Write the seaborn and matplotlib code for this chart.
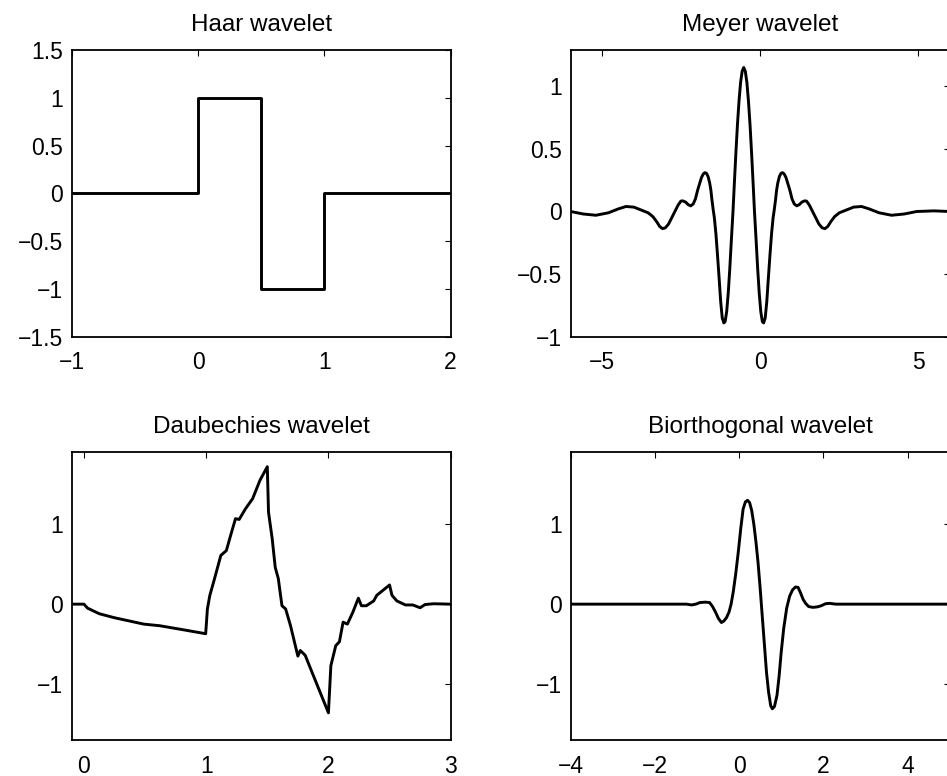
import numpy as np
import pandas as pd
import matplotlib
matplotlib.use("Agg")
import matplotlib.pyplot as plt
import seaborn as sns
from matplotlib.ticker import FuncFormatter

# ---------------- data ----------------
haar_x = [-1, 0, 0, 0.5, 0.5, 1, 1, 2]
haar_y = [0, 0, 1, 1, -1, -1, 0, 0]

meyer_x = [-6.0, -5.6, -5.2, -4.8, -4.5, -4.25, -4.0, -3.75, -3.55, -3.4, -3.28, -3.18, -3.09,
           -3.0, -2.9, -2.8, -2.7, -2.6, -2.51, -2.45, -2.36, -2.28, -2.2, -2.12, -2.05,
           -1.98, -1.92, -1.86, -1.8, -1.75, -1.7, -1.65, -1.6, -1.56, -1.53, -1.49, -1.45,
           -1.4, -1.35, -1.3, -1.25, -1.2, -1.15, -1.11, -1.06, -1.01, -0.96, -0.91, -0.86,
           -0.82, -0.77, -0.72, -0.67, -0.62, -0.57, -0.52,
           -0.47, -0.42, -0.37, -0.32, -0.27, -0.22, -0.18, -0.13, -0.08, -0.03, 0.02, 0.07,
           0.11, 0.16, 0.21, 0.26, 0.31, 0.36, 0.41, 0.45, 0.49, 0.52, 0.56, 0.61, 0.66,
           0.71, 0.76, 0.82, 0.88, 0.94, 1.01, 1.08, 1.16, 1.24, 1.32, 1.41, 1.47, 1.56,
           1.66, 1.76, 1.86, 1.96, 2.05, 2.14, 2.24, 2.36, 2.51, 2.71, 2.96, 3.21, 3.46,
           3.76, 4.16, 4.56, 4.96, 5.5, 6.0]
meyer_y = [0.0, -0.02, -0.03, -0.01, 0.02, 0.04, 0.035, 0.01, -0.01, -0.04, -0.08, -0.12, -0.137,
           -0.13, -0.10, -0.05, 0.0, 0.05, 0.083, 0.085, 0.075, 0.055, 0.045, 0.06, 0.10,
           0.17, 0.22, 0.27, 0.30, 0.31, 0.305, 0.28, 0.23, 0.17, 0.10, 0.02, -0.05,
           -0.18, -0.35, -0.53, -0.72, -0.85, -0.89, -0.88, -0.80, -0.65, -0.45, -0.22, 0.0,
           0.21, 0.46, 0.69, 0.88, 1.03, 1.12, 1.15,
           1.12, 1.03, 0.88, 0.69, 0.46, 0.21, 0.0, -0.22, -0.45, -0.65, -0.80, -0.88,
           -0.89, -0.85, -0.72, -0.53, -0.35, -0.18, -0.05, 0.02, 0.10, 0.17, 0.23, 0.28, 0.305,
           0.31, 0.30, 0.27, 0.22, 0.17, 0.10, 0.06, 0.045, 0.055, 0.075, 0.085, 0.083, 0.05,
           0.0, -0.05, -0.10, -0.13, -0.137, -0.12, -0.08, -0.04, -0.01, 0.01, 0.035, 0.04, 0.02,
           -0.01, -0.03, -0.02, 0.0, 0.005, 0.0]

daub_x = [-0.1, 0.0, 0.03, 0.126, 0.25, 0.34, 0.49, 0.62, 0.81, 0.996, 1.01, 1.03, 1.065,
          1.12, 1.165, 1.2, 1.24, 1.27, 1.32, 1.38, 1.44, 1.50, 1.51, 1.54, 1.565, 1.59,
          1.62, 1.65, 1.69, 1.75, 1.77, 1.81, 1.86, 2.0, 2.02, 2.06, 2.09, 2.12, 2.155,
          2.2, 2.245, 2.27, 2.31, 2.37, 2.395, 2.50, 2.52, 2.56, 2.63, 2.69, 2.75, 2.79,
          2.86, 3.0]
daub_y = [0.0, 0.0, -0.05, -0.12, -0.17, -0.2, -0.25, -0.27, -0.32, -0.37, -0.06, 0.11, 0.30,
          0.61, 0.67, 0.86, 1.07, 1.06, 1.19, 1.32, 1.55, 1.72, 1.15, 0.82, 0.46, 0.32,
          -0.02, -0.06, -0.27, -0.65, -0.58, -0.64, -0.83, -1.36, -0.77, -0.52, -0.47, -0.225, -0.25,
          -0.1, 0.075, -0.02, -0.02, 0.04, 0.11, 0.24, 0.11, 0.04, -0.01, -0.01, -0.045, -0.005,
          0.005, 0.0]

bior_x = [-4.0, -1.25, -1.13, -1.03, -0.93, -0.8, -0.7, -0.63, -0.56, -0.49, -0.42, -0.36,
          -0.3, -0.24, -0.19, -0.14, -0.08, -0.02, 0.04, 0.095, 0.15, 0.2, 0.25, 0.3, 0.35,
          0.4, 0.45, 0.5, 0.55, 0.6, 0.65, 0.7, 0.75, 0.79, 0.84, 0.9, 0.95, 1.0, 1.06,
          1.13, 1.2, 1.27, 1.34, 1.40, 1.46, 1.52, 1.58, 1.65, 1.75, 1.85, 1.95, 2.05,
          2.15, 2.3, 5.0]
bior_y = [0.0, 0.0, -0.01, 0.0, 0.02, 0.025, 0.02, -0.03, -0.10, -0.18, -0.23, -0.21,
          -0.17, -0.10, 0.0, 0.15, 0.38, 0.65, 0.95, 1.19, 1.28, 1.30, 1.27, 1.17, 1.0,
          0.78, 0.52, 0.2, -0.15, -0.5, -0.85, -1.1, -1.27, -1.31, -1.28, -1.14, -0.90, -0.6, -0.3,
          -0.05, 0.1, 0.18, 0.215, 0.21, 0.14, 0.06, 0.01, -0.03, -0.04, -0.035, -0.02, 0.005,
          0.01, 0.0, 0.0]

titles = ["Haar wavelet", "Meyer wavelet", "Daubechies wavelet", "Biorthogonal wavelet"]
xlims = [(-1, 2), (-6, 6), (-0.1, 3), (-4, 5)]
ylims = [(-1.5, 1.5), (-1, 1.29), (-1.7, 1.9), (-1.7, 1.9)]
xticks = [[-1, 0, 1, 2], [-5, 0, 5], [0, 1, 2, 3], [-4, -2, 0, 2, 4]]
yticks = [[-1.5, -1, -0.5, 0, 0.5, 1, 1.5], [-1, -0.5, 0, 0.5, 1], [-1, 0, 1], [-1, 0, 1]]

# ---------------- style ----------------
sns.set_theme(style="white")
plt.rcParams['font.family'] = ['Liberation Sans', 'DejaVu Sans']
plt.rcParams.update({
    "xtick.direction": "in", "ytick.direction": "in",
    "xtick.top": True, "ytick.right": True,
    "xtick.major.size": 4, "ytick.major.size": 4,
    "xtick.major.width": 0.8, "ytick.major.width": 0.8,
    "axes.edgecolor": "black", "axes.linewidth": 1.3,
    "xtick.color": "black", "ytick.color": "black",
})

fig = plt.figure(figsize=(9.47, 7.76), dpi=100)
positions = [
    [0.0757, 0.5661, 0.4002, 0.3695],
    [0.6026, 0.5661, 0.4002, 0.3695],
    [0.0757, 0.0464, 0.4002, 0.3707],
    [0.6026, 0.0464, 0.4002, 0.3707],
]
series = [(haar_x, haar_y), (meyer_x, meyer_y), (daub_x, daub_y), (bior_x, bior_y)]

fmt = FuncFormatter(lambda v, p: ("%g" % v).replace("-", "\u2212"))

for i in range(4):
    ax = fig.add_axes(positions[i])
    df = pd.DataFrame({"x": series[i][0], "y": series[i][1]})
    sns.lineplot(data=df, x="x", y="y", ax=ax, sort=False, estimator=None,
                 color="black", linewidth=2.1)
    ax.set_xlim(*xlims[i])
    ax.set_ylim(*ylims[i])
    ax.set_xticks(xticks[i])
    ax.set_yticks(yticks[i])
    ax.xaxis.set_major_formatter(fmt)
    ax.yaxis.set_major_formatter(fmt)
    ax.set_xlabel("")
    ax.set_ylabel("")
    ax.tick_params(axis="both", labelsize=16.5, colors="black")
    ax.tick_params(axis="x", pad=10.5)
    ax.tick_params(axis="y", pad=6)
    ax.set_title(titles[i], fontsize=17.5, pad=14, color="black")
    for s in ax.spines.values():
        s.set_visible(True)
        s.set_color("black")

fig.savefig("out.png", dpi=100, facecolor="white")
